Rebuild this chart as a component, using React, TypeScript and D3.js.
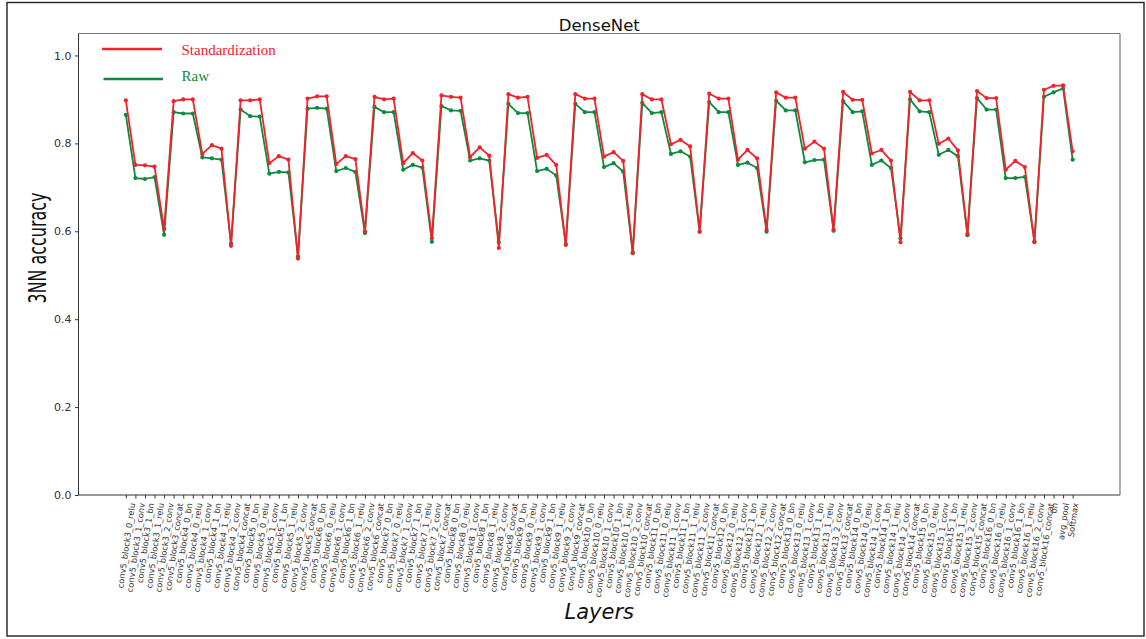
import React, { useEffect, useRef } from "react";
import * as d3 from "d3";

const TITLE = "DenseNet";
const X_LABEL = "Layers";
const Y_LABEL = "3NN accuracy";
const SERIES_NAMES = ["Standardization", "Raw"];

const BLOCKS = [4, 5, 6, 7, 8, 9, 10, 11, 12, 13, 14, 15, 16];
const SUFFIXES = ["0_bn", "0_relu", "1_conv", "1_bn", "1_relu", "2_conv", "concat"];
const LAYERS: string[] = [
  "conv5_block3_0_relu",
  "conv5_block3_1_conv",
  "conv5_block3_1_bn",
  "conv5_block3_1_relu",
  "conv5_block3_2_conv",
  "conv5_block3_concat",
  ...BLOCKS.flatMap((b) => SUFFIXES.map((s) => `conv5_block${b}_${s}`)),
  "bn",
  "avg_pool",
  "Softmax",
];

const STANDARDIZATION = [
  0.898, 0.751, 0.750, 0.747, 0.605, 0.896,
  0.900, 0.900, 0.776, 0.796, 0.788, 0.567, 0.898,
  0.898, 0.900, 0.755, 0.771, 0.763, 0.538, 0.902,
  0.907, 0.907, 0.753, 0.771, 0.764, 0.600, 0.906,
  0.900, 0.902, 0.755, 0.778, 0.761, 0.584, 0.909,
  0.906, 0.904, 0.769, 0.791, 0.772, 0.562, 0.912,
  0.904, 0.906, 0.767, 0.774, 0.751, 0.569, 0.912,
  0.902, 0.902, 0.770, 0.780, 0.760, 0.552, 0.912,
  0.900, 0.900, 0.798, 0.808, 0.793, 0.599, 0.913,
  0.902, 0.902, 0.763, 0.785, 0.766, 0.603, 0.916,
  0.904, 0.904, 0.788, 0.804, 0.788, 0.603, 0.917,
  0.899, 0.899, 0.777, 0.785, 0.761, 0.575, 0.917,
  0.898, 0.898, 0.799, 0.811, 0.784, 0.594, 0.919,
  0.903, 0.903, 0.740, 0.760, 0.746, 0.575, 0.922,
  0.931, 0.932, 0.782,
];

const RAW = [
  0.865, 0.721, 0.719, 0.723, 0.592, 0.871,
  0.868, 0.868, 0.768, 0.766, 0.763, 0.572, 0.877,
  0.862, 0.861, 0.731, 0.735, 0.734, 0.543, 0.879,
  0.881, 0.879, 0.737, 0.744, 0.735, 0.596, 0.883,
  0.871, 0.871, 0.740, 0.751, 0.745, 0.576, 0.885,
  0.875, 0.874, 0.761, 0.766, 0.761, 0.575, 0.890,
  0.869, 0.869, 0.737, 0.742, 0.727, 0.571, 0.890,
  0.871, 0.871, 0.746, 0.755, 0.736, 0.550, 0.892,
  0.869, 0.871, 0.776, 0.782, 0.770, 0.599, 0.894,
  0.871, 0.871, 0.751, 0.756, 0.744, 0.599, 0.897,
  0.875, 0.875, 0.757, 0.762, 0.763, 0.601, 0.896,
  0.871, 0.873, 0.751, 0.761, 0.744, 0.584, 0.900,
  0.873, 0.871, 0.774, 0.785, 0.771, 0.591, 0.903,
  0.877, 0.877, 0.721, 0.721, 0.724, 0.577, 0.906,
  0.916, 0.925, 0.763,
];

const Y_TICKS = [0, 0.2, 0.4, 0.6, 0.8, 1.0];

const W = 1146;
const H = 639;
const RED = "#f0222b";
const GREEN = "#0d8a3e";

export default function App() {
  const ref = useRef<SVGSVGElement | null>(null);

  useEffect(() => {
    const svg = d3.select(ref.current);
    svg.selectAll("*").remove();

    const left = 78.5, right = 1120, top = 33.5, bottom = 495;
    const n = LAYERS.length;
    const margin = (n - 1) * 0.05;
    const x = d3.scaleLinear().domain([-margin, n - 1 + margin]).range([left, right]);
    const y = d3.scaleLinear().domain([0, 1.05]).range([bottom, top]);

    svg.append("rect").attr("width", W).attr("height", H).attr("fill", "#fff");
    svg.append("rect")
      .attr("x", 7).attr("y", 2.5).attr("width", 1137).attr("height", 633.5)
      .attr("fill", "none").attr("stroke", "#222").attr("stroke-width", 1.4);

    // title
    svg.append("text")
      .attr("x", (left + right) / 2).attr("y", 31)
      .attr("text-anchor", "middle")
      .attr("font-family", "DejaVu Sans").attr("font-size", 16.5)
      .attr("fill", "#111").text(TITLE);

    // y axis
    const yAxis = d3.axisLeft(y).tickValues(Y_TICKS).tickFormat(d3.format(".1f")).tickSize(3.5).tickPadding(3.5);
    const gy = svg.append("g").attr("transform", `translate(${left},0)`).call(yAxis);
    gy.select(".domain").remove();
    gy.selectAll("line").attr("stroke", "#333");
    gy.selectAll("text").attr("font-family", "DejaVu Sans").attr("font-size", 11).attr("fill", "#333");

    // x axis
    const xAxis = d3.axisBottom(x).tickValues(d3.range(n)).tickFormat((d) => LAYERS[d as number]).tickSize(3.5);
    const gx = svg.append("g").attr("transform", `translate(0,${bottom})`).call(xAxis);
    gx.select(".domain").remove();
    gx.selectAll("line").attr("stroke", "#333");
    gx.selectAll<SVGTextElement, number>("text")
      .attr("font-family", "DejaVu Sans").attr("font-size", 8.3).attr("fill", "#333")
      .attr("text-anchor", "end").attr("dy", "0.35em").attr("y", null);
    gx.selectAll<SVGTextElement, number>("text").each(function () {
      const L = this.getComputedTextLength();
      const off = L * Math.cos((82 * Math.PI) / 180) / 2;
      d3.select(this).attr("transform", `translate(${off},8) rotate(-82)`);
    });

    // spines
    svg.append("line").attr("x1", left).attr("x2", left).attr("y1", top).attr("y2", bottom).attr("stroke", "#333").attr("stroke-width", 1);
    svg.append("line").attr("x1", left).attr("x2", right).attr("y1", bottom).attr("y2", bottom).attr("stroke", "#333").attr("stroke-width", 1);
    svg.append("line").attr("x1", right).attr("x2", right).attr("y1", top).attr("y2", bottom).attr("stroke", "#777").attr("stroke-width", 1.2);
    svg.append("line").attr("x1", left).attr("x2", right).attr("y1", top).attr("y2", top).attr("stroke", "#777").attr("stroke-width", 1.2);

    // axis labels
    svg.append("text")
      .attr("transform", `translate(45.5,248) rotate(-90)`)
      .attr("text-anchor", "middle")
      .attr("font-family", "DejaVu Sans").attr("font-size", 25)
      .attr("textLength", 111).attr("lengthAdjust", "spacingAndGlyphs")
      .attr("fill", "#111").text(Y_LABEL);
    svg.append("text")
      .attr("x", (left + right) / 2).attr("y", 619)
      .attr("text-anchor", "middle")
      .attr("font-family", "DejaVu Sans").attr("font-style", "italic").attr("font-size", 21)
      .attr("fill", "#111").text(X_LABEL);

    // series
    const line = d3.line<number>().x((_, i) => x(i)).y((d) => y(d));
    const series = [
      { data: RAW, color: GREEN },
      { data: STANDARDIZATION, color: RED },
    ];
    series.forEach((s) => {
      svg.append("path").attr("d", line(s.data) as string)
        .attr("fill", "none").attr("stroke", s.color).attr("stroke-width", 1.8).attr("stroke-linejoin", "round");
      svg.append("g").selectAll("circle").data(s.data).join("circle")
        .attr("cx", (_, i) => x(i)).attr("cy", (d) => y(d)).attr("r", 2.1).attr("fill", s.color);
    });

    // legend
    const legend = [
      { name: SERIES_NAMES[0], color: RED, y: 49, ty: 54.5, x1: 102, x2: 162 },
      { name: SERIES_NAMES[1], color: GREEN, y: 79, ty: 80.5, x1: 103.5, x2: 163 },
    ];
    legend.forEach((l) => {
      svg.append("line").attr("x1", l.x1).attr("x2", l.x2).attr("y1", l.y).attr("y2", l.y)
        .attr("stroke", l.color).attr("stroke-width", 2.4);
      svg.append("text").attr("x", 181.5).attr("y", l.ty)
        .attr("font-family", "Liberation Serif").attr("font-size", 15)
        .attr("fill", l.color).text(l.name);
    });
  }, []);

  return (
    <svg
      ref={ref}
      width={W}
      height={H}
      viewBox={`0 0 ${W} ${H}`}
      style={{ position: "absolute", left: 0, top: 0, display: "block" }}
    />
  );
}
